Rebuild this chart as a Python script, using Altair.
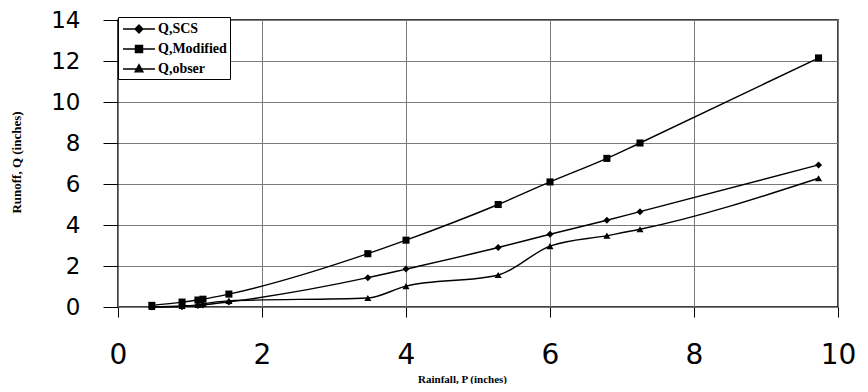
import altair as alt
import pandas as pd

# ---- data ----
rainfall = [0.47, 0.89, 1.11, 1.18, 1.54, 3.47, 4.0, 5.28, 6.0, 6.79, 7.25, 9.73]
q_scs = [0.0, 0.02, 0.08, 0.1, 0.25, 1.43, 1.85, 2.9, 3.55, 4.23, 4.65, 6.93]
q_modified = [0.08, 0.24, 0.34, 0.38, 0.63, 2.6, 3.26, 5.0, 6.1, 7.25, 8.0, 12.15]
q_obser = [0.0, 0.05, 0.1, 0.15, 0.3, 0.44, 1.02, 1.56, 2.97, 3.48, 3.79, 6.28]
series_names = ["Q,SCS", "Q,Modified", "Q,obser"]
x_ticks = [0, 2, 4, 6, 8, 10]
y_ticks = [0, 2, 4, 6, 8, 10, 12, 14]

rows = []
for name, vals in zip(series_names, [q_scs, q_modified, q_obser]):
    for p, q in zip(rainfall, vals):
        rows.append({"P": p, "Q": q, "Series": name})
df = pd.DataFrame(rows)

x_enc = alt.X(
    "P:Q",
    scale=alt.Scale(domain=[0, 10], nice=False, zero=False),
    axis=alt.Axis(
        values=x_ticks, title="Rainfall, P (inches)", format="d",
        titleFont="Liberation Serif", titleFontWeight="bold", titleFontSize=11,
        titleColor="black", titleX=344, titleY=72, titleBaseline="middle",
        labelFont="DejaVu Sans", labelFontSize=28, labelColor="black",
        labelPadding=24, labelFlush=False, tickSize=10, tickColor="black",
        domain=False, grid=True, gridColor="#7a7a7a", gridWidth=1,
    ),
)
y_enc = alt.Y(
    "Q:Q",
    scale=alt.Scale(domain=[0, 14], nice=False, zero=False),
    axis=alt.Axis(
        values=y_ticks, title="Runoff, Q (inches)", format="d",
        titleFont="Liberation Serif", titleFontWeight="bold", titleFontSize=13,
        titleColor="black", titleX=-102, titleY=142, titleBaseline="middle",
        titleAlign="center", titleAngle=-90,
        labelFont="DejaVu Sans", labelFontSize=23, labelColor="black",
        labelPadding=23, labelFlush=False, tickSize=15, tickColor="black",
        domain=False, grid=True, gridColor="#7a7a7a", gridWidth=1,
    ),
)

base = alt.Chart(df)

lines = base.mark_line(color="black", strokeWidth=1.4, interpolate="monotone").encode(
    x=x_enc, y=y_enc, detail="Series:N"
)

points = base.mark_point(filled=True, color="black", opacity=1, size=50).encode(
    x="P:Q", y="Q:Q",
    shape=alt.Shape(
        "Series:N",
        scale=alt.Scale(domain=series_names, range=["diamond", "square", "triangle-up"]),
        legend=None,
    ),
)

legend_paths = [
    "M-2,0H2M0,-0.5L0.5,0L0,0.5L-0.5,0Z",
    "M-2,0H2M-0.45,-0.45H0.45V0.45H-0.45Z",
    "M-2,0H2M0,-0.55L0.5,0.35H-0.5Z",
]
legend_layer = base.transform_filter("datum.Q < -100").mark_point(
    filled=True, fill="black", stroke="black", strokeWidth=1.3, opacity=1
).encode(
    x="P:Q", y="Q:Q",
    shape=alt.Shape(
        "Series:N",
        scale=alt.Scale(domain=series_names, range=legend_paths),
        legend=alt.Legend(
            title=None, orient="none", legendX=0, legendY=-3, direction="vertical",
            fillColor="white", strokeColor="black", padding=3,
            symbolSize=256, symbolStrokeWidth=1.3,
            symbolOpacity=1, symbolOffset=9,
            labelOffset=10, labelFont="Liberation Serif", labelFontWeight="bold",
            labelFontSize=14, labelColor="black", rowPadding=4,
        ),
    ),
)

chart = (
    alt.layer(lines, points, legend_layer)
    .resolve_scale(shape="independent")
    .properties(
        width=720, height=287,
        autosize=alt.AutoSizeParams(type="none"),
        padding={"left": 110, "top": 12, "right": 20, "bottom": 77},
        background="white",
    )
    .configure_view(stroke="black", strokeWidth=1.5)
)

chart.save("out.html", embed_options={"renderer": "svg", "actions": False})
